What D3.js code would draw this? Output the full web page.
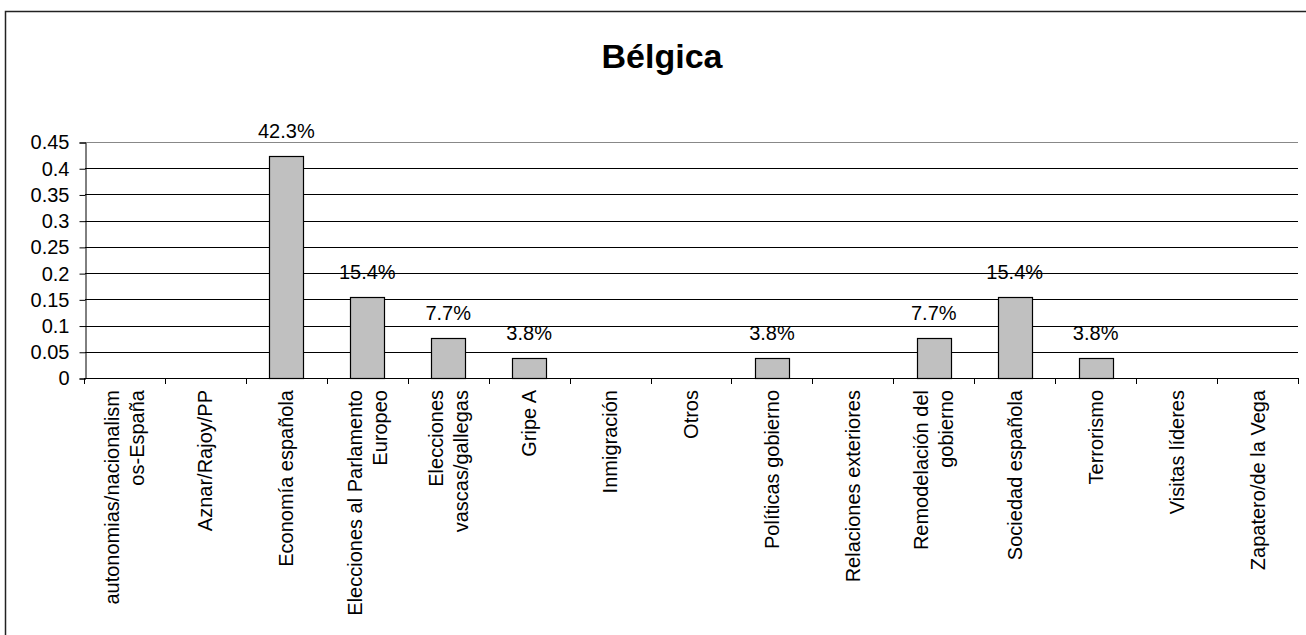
<!DOCTYPE html>
<meta charset="utf-8">
<script src="https://d3js.org/d3.v7.min.js"></script>
<style>
  body { margin: 0; background: #fff; }
  text { font-family: "Liberation Sans", Arial, sans-serif; fill: #000; }
</style>
<div id="my_dataviz"></div>
<script>

// data
var categories = [
  "autonomias/nacionalism\nos-España",
  "Aznar/Rajoy/PP",
  "Economía española",
  "Elecciones al Parlamento\nEuropeo",
  "Elecciones\nvascas/gallegas",
  "Gripe A",
  "Inmigración",
  "Otros",
  "Políticas gobierno",
  "Relaciones exteriores",
  "Remodelación del\ngobierno",
  "Sociedad española",
  "Terrorismo",
  "Visitas líderes",
  "Zapatero/de la Vega"
];
var values = [0, 0, 0.423, 0.154, 0.077, 0.038, 0, 0, 0.038, 0, 0.077, 0.154, 0.038, 0, 0];
var yTicks = [0, 0.05, 0.1, 0.15, 0.2, 0.25, 0.3, 0.35, 0.4, 0.45];
var title = "Bélgica";

var W = 1306, H = 635;
var fs = "20px";

var svg = d3.select("#my_dataviz")
  .append("svg")
    .attr("width", W)
    .attr("height", H);

// outer chart frame (runs off the right and bottom edges)
svg.append("rect")
  .attr("x", 5.5).attr("y", 11.5)
  .attr("width", 1400).attr("height", 700)
  .attr("fill", "none")
  .attr("stroke", "#222")
  .attr("stroke-width", 1.5);

// title
svg.append("text")
  .attr("x", 662)
  .attr("y", 68)
  .attr("text-anchor", "middle")
  .style("font-size", "34px")
  .style("font-weight", "bold")
  .text(title);

// scales
var x = d3.scaleBand()
  .domain(categories)
  .range([84, 1298])
  .padding(0);

var y = d3.scaleLinear()
  .domain([0, 0.45])
  .range([378, 142]);

// gridlines
svg.append("g")
  .selectAll("line")
  .data(yTicks.filter(function(d) { return d > 0; }))
  .enter().append("line")
    .attr("x1", 85).attr("x2", 1298)
    .attr("y1", function(d) { return Math.round(y(d)) + 0.5; })
    .attr("y2", function(d) { return Math.round(y(d)) + 0.5; })
    .attr("stroke", function(d) { return d === 0.45 ? "#888" : "#000"; })
    .attr("stroke-width", 1);

// Y axis
var yAxis = svg.append("g")
  .attr("transform", "translate(85.5,0.5)")
  .call(d3.axisLeft(y).tickValues(yTicks).tickSize(6).tickPadding(10)
    .tickFormat(function(d) { return String(d); }));
yAxis.select(".domain").attr("stroke", "#000");
yAxis.selectAll(".tick line").attr("stroke", "#000");
yAxis.selectAll("text")
  .style("font-size", fs)
  .attr("font-family", null);

// X axis line + ticks at band boundaries
svg.append("line")
  .attr("x1", 84).attr("x2", 1298)
  .attr("y1", 378.5).attr("y2", 378.5)
  .attr("stroke", "#000");

var bounds = categories.map(function(c) { return x(c); }).concat([x.range()[1]]);
svg.append("g")
  .selectAll("line")
  .data(bounds)
  .enter().append("line")
    .attr("x1", function(d) { return Math.round(d) + 0.5; })
    .attr("x2", function(d) { return Math.round(d) + 0.5; })
    .attr("y1", 378).attr("y2", 384)
    .attr("stroke", "#000");

// bars + value labels
var barW = x.bandwidth() * 0.42;
var bars = svg.append("g");
values.forEach(function(v, i) {
  if (v <= 0) return;
  var bx = Math.round(x(categories[i]) + (x.bandwidth() - barW) / 2) + 0.5;
  bars.append("rect")
    .attr("x", bx)
    .attr("y", Math.round(y(v)) + 0.5)
    .attr("width", Math.round(barW))
    .attr("height", Math.round(y(0)) - Math.round(y(v)))
    .attr("fill", "#c0c0c0")
    .attr("stroke", "#000")
    .attr("stroke-width", 1.2);

  bars.append("text")
    .attr("x", x(categories[i]) + x.bandwidth() / 2)
    .attr("y", y(v) - 18)
    .attr("text-anchor", "middle")
    .style("font-size", fs)
    .text(d3.format(".1%")(v));
});

// category labels, rotated
var lineH = 25;
categories.forEach(function(c) {
  var lines = c.split("\n");
  var cx = x(c) + x.bandwidth() / 2;
  var t = svg.append("text")
    .attr("transform", "translate(" + cx + ",390) rotate(-90)")
    .attr("text-anchor", "end")
    .style("font-size", fs);
  lines.forEach(function(l, k) {
    var off = (k - (lines.length - 1) / 2) * lineH + 7;
    t.append("tspan")
      .attr("x", 0)
      .attr("y", off)
      .text(l);
  });
});

</script>
